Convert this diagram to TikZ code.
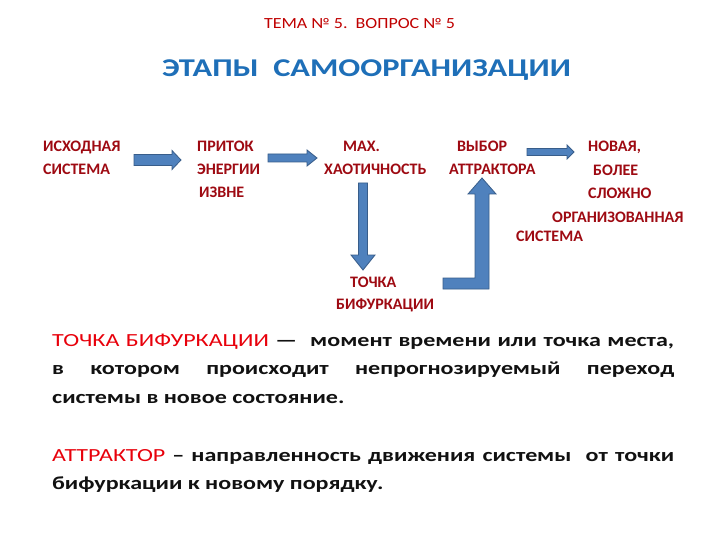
\documentclass[tikz,border=0pt]{standalone}
\usepackage{fontspec}
\setmainfont{Carlito}
\newfontfamily\headfont[FakeStretch=1.16]{Carlito}
\newfontfamily\titlefont[FakeStretch=1.267]{Carlito}
\newfontfamily\parafont[FakeStretch=1.3]{Carlito}
\usetikzlibrary{calc}
\definecolor{stagered}{HTML}{9E0A12}
\definecolor{headred}{HTML}{C00000}
\definecolor{termred}{HTML}{E8000B}
\definecolor{titleblue}{HTML}{1E6FB8}
\definecolor{arrowfill}{HTML}{4F81BD}
\definecolor{arrowline}{HTML}{385D8A}
\definecolor{ink}{HTML}{111111}
% horizontal block arrow: start, end, half shaft, half head, head length
\newcommand{\harrow}[5]{%
  \filldraw[blockarrow] ($(#1)+(0,#3)$) -- ($(#2)+(-#5,#3)$) -- ($(#2)+(-#5,#4)$)
    -- (#2) -- ($(#2)+(-#5,-#4)$) -- ($(#2)+(-#5,-#3)$) -- ($(#1)+(0,-#3)$) -- cycle;}
\newcommand{\term}[1]{\textcolor{termred}{\mdseries #1}}
\hyphenpenalty=10000

\begin{document}
\begin{tikzpicture}[x=1pt,y=-1pt,
    stage/.style={font=\fontsize{16}{23}\selectfont\bfseries,text=stagered,
                  inner sep=0pt,align=left,anchor=base west},
    para/.style={font=\parafont\fontsize{18.5}{28.5}\selectfont\bfseries,text=ink,
                 inner sep=0pt,text width=622pt,align=justify,anchor=base west},
    blockarrow/.style={fill=arrowfill,draw=arrowline,line width=0.8pt,line join=miter}]
  \useasboundingbox[fill=white] (0,0) rectangle (720,540);

  % headings
  \node[font=\headfont\fontsize{15.5}{18}\selectfont,text=headred,inner sep=0pt,anchor=base]
    (topic) at (359.5,29) {ТЕМА № 5.\ \ ВОПРОС № 5};
  \node[font=\titlefont\fontsize{25.6}{30}\selectfont\bfseries,text=titleblue,
        inner sep=0pt,anchor=base]
    (title) at (366.5,77) {ЭТАПЫ\ \ САМООРГАНИЗАЦИИ};

  % stages (anchored at the baseline of the last line)
  \node[stage] (source) at (43,175) {ИСХОДНАЯ\\СИСТЕМА};
  \node[stage] (inflow) at (197,198) {ПРИТОК\\ЭНЕРГИИ\\\hspace*{2pt}ИЗВНЕ};
  \node[stage] (chaos) at (324,175) {\hspace*{19pt}МАХ.\\ХАОТИЧНОСТЬ};
  \node[stage,font=\fontsize{16}{22}\selectfont\bfseries] (bifur) at (336,309)
    {\hspace*{14pt}ТОЧКА\\БИФУРКАЦИИ};
  \node[stage] (choice) at (449,175) {\hspace*{8pt}ВЫБОР\\АТТРАКТОРА};
  \node[stage] (newsys) at (516,241)
    {\hspace*{72pt}НОВАЯ,\\\hspace*{77pt}БОЛЕЕ\\\hspace*{72pt}СЛОЖНО\\[1pt]
     \hspace*{36pt}ОРГАНИЗОВАННАЯ\\[-4pt]СИСТЕМА};

  % block arrows
  \coordinate (a1s) at (134,160); \coordinate (a1e) at (181,160);
  \coordinate (a2s) at (268,158); \coordinate (a2e) at (317,158);
  \coordinate (a3s) at (527,152); \coordinate (a3e) at (574,152);
  \harrow{a1s}{a1e}{5.5}{9.5}{9}
  \harrow{a2s}{a2e}{4}{8}{10}
  \harrow{a3s}{a3e}{3.5}{7}{7}
  \coordinate (downtop) at (363,183); \coordinate (downtip) at (363,270);
  \filldraw[blockarrow] ($(downtop)+(-4.5,0)$) -- ($(downtip)+(-4.5,-15)$)
    -- ($(downtip)+(-12,-15)$) -- (downtip) -- ($(downtip)+(12,-15)$)
    -- ($(downtip)+(4.5,-15)$) -- ($(downtop)+(4.5,0)$) -- cycle;
  \coordinate (turn) at (443,283.5); \coordinate (uptip) at (482,178);
  \filldraw[blockarrow] ($(turn)+(0,-5.5)$) -- ($(uptip)+(-7,100)$)
    -- ($(uptip)+(-7,16)$) -- ($(uptip)+(-14,16)$) -- (uptip)
    -- ($(uptip)+(14,16)$) -- ($(uptip)+(7,16)$) -- ($(uptip)+(7,111)$)
    -- ($(turn)+(0,5.5)$) -- cycle;

  % definitions (anchored at the baseline of the first line)
  \node[para] (bifdef) at (52,346)
    {\term{ТОЧКА БИФУРКАЦИИ} —\ \ момент времени или точка места,\linebreak
     в котором происходит непрогнозируемый переход\linebreak
     системы в новое состояние.};
  \node[para] (attrdef) at (52,461)
    {\term{АТТРАКТОР} – направленность движения системы\ \ от точки\linebreak
     бифуркации к новому порядку.};
\end{tikzpicture}
\end{document}
